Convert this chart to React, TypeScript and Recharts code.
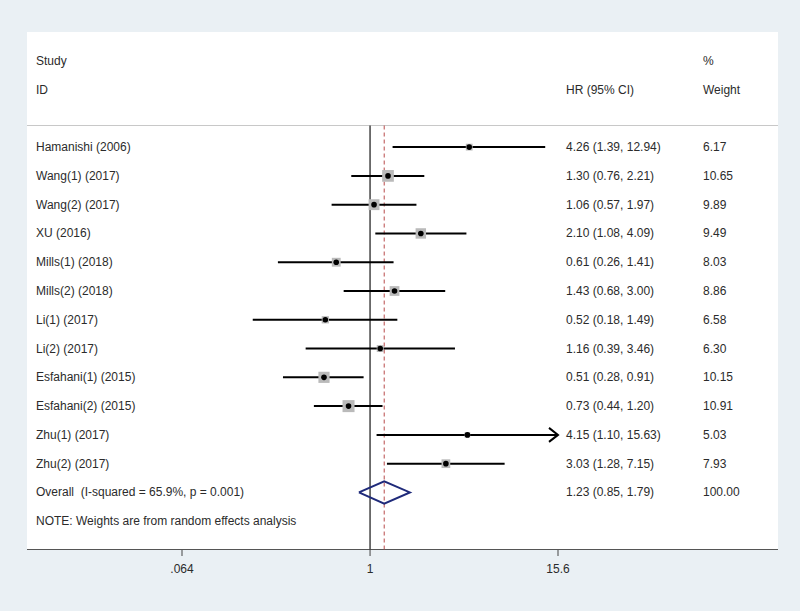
import React from "react";
import {
  ScatterChart,
  Scatter,
  XAxis,
  YAxis,
  ReferenceLine,
  ReferenceDot,
} from "recharts";

const studies = [
  "Hamanishi (2006)",
  "Wang(1) (2017)",
  "Wang(2) (2017)",
  "XU (2016)",
  "Mills(1) (2018)",
  "Mills(2) (2018)",
  "Li(1) (2017)",
  "Li(2) (2017)",
  "Esfahani(1) (2015)",
  "Esfahani(2) (2015)",
  "Zhu(1) (2017)",
  "Zhu(2) (2017)",
];
const hr = [4.26, 1.3, 1.06, 2.1, 0.61, 1.43, 0.52, 1.16, 0.51, 0.73, 4.15, 3.03];
const lower = [1.39, 0.76, 0.57, 1.08, 0.26, 0.68, 0.18, 0.39, 0.28, 0.44, 1.1, 1.28];
const upper = [12.94, 2.21, 1.97, 4.09, 1.41, 3.0, 1.49, 3.46, 0.91, 1.2, 15.63, 7.15];
const weights = [6.17, 10.65, 9.89, 9.49, 8.03, 8.86, 6.58, 6.3, 10.15, 10.91, 5.03, 7.93];

const overallLabel = "Overall  (I-squared = 65.9%, p = 0.001)";
const overallHr = 1.23;
const overallLo = 0.85;
const overallHi = 1.79;
const overallWeight = 100.0;
const note = "NOTE: Weights are from random effects analysis";

const xTicks = [0.064, 1, 15.6];
const xTickLabels = [".064", "1", "15.6"];

// row layout: header rows at -3/-2, studies 0..11, overall 12, note 13
const X_MIN = 0.064;
const X_MAX = 15.6;
const Y_TOP = -4;
const Y_BOTTOM = 14;
const HEADER_LINE = -0.75;
const OVERALL_ROW = studies.length;
const NOTE_ROW = studies.length + 1;
const DIAMOND_H = 0.39;

const rows = studies.map((name, i) => ({
  name,
  x: hr[i],
  y: i,
  lo: lower[i],
  hi: upper[i],
  w: weights[i],
}));

const diamond = [
  { x: overallLo, y: OVERALL_ROW },
  { x: overallHr, y: OVERALL_ROW - DIAMOND_H },
  { x: overallHi, y: OVERALL_ROW },
  { x: overallHr, y: OVERALL_ROW + DIAMOND_H },
  { x: overallLo, y: OVERALL_ROW },
];

const yTicks = [-3, -2, ...rows.map(r => r.y), OVERALL_ROW, NOTE_ROW];

const fmtCI = (h: number, l: number, u: number) =>
  `${h.toFixed(2)} (${l.toFixed(2)}, ${u.toFixed(2)})`;

const FONT = "'Liberation Sans', Arial, sans-serif";
const TEXT = "#2b2b2b";

// one tick = one table row: study label, HR (95% CI), % weight
function rowText(v: number): [string, string, string] {
  if (v === -3) return ["Study", "", "%"];
  if (v === -2) return ["ID", "HR (95% CI)", "Weight"];
  if (v === OVERALL_ROW)
    return [overallLabel, fmtCI(overallHr, overallLo, overallHi), overallWeight.toFixed(2)];
  if (v === NOTE_ROW) return [note, "", ""];
  return [studies[v], fmtCI(hr[v], lower[v], upper[v]), weights[v].toFixed(2)];
}

function RowTick({ y, payload }: any) {
  const [label, ci, w] = rowText(payload.value);
  return (
    <g fill={TEXT} fontSize={12} fontFamily={FONT}>
      <text x={36} y={y} dy={4} style={{ whiteSpace: "pre" }}>{label}</text>
      <text x={566} y={y} dy={4}>{ci}</text>
      <text x={703} y={y} dy={4}>{w}</text>
    </g>
  );
}

function StudyBox({ cx, cy, payload }: any) {
  const s = payload.w * 1.1;
  return (
    <g>
      <rect x={cx - s / 2} y={cy - s / 2} width={s} height={s} fill="#bababa" />
      <circle cx={cx} cy={cy} r={2.8} fill="#000" />
    </g>
  );
}

function Arrow({ cx, cy }: any) {
  return (
    <path
      d={`M${cx - 9},${cy - 7} L${cx},${cy} L${cx - 9},${cy + 7}`}
      fill="none"
      stroke="#000"
      strokeWidth={2}
    />
  );
}

export default function App() {
  return (
    <div style={{ position: "fixed", left: 0, top: 0, width: 800, height: 611, background: "#eaf0f4" }}>
      <div
        style={{
          position: "absolute",
          left: 27,
          top: 32,
          width: 751,
          height: 518,
          background: "#fff",
          borderBottom: "1.5px solid #555",
          boxSizing: "border-box",
        }}
      />
      <div style={{ position: "absolute", left: 27, top: 125, width: 751, height: 1, background: "#c8c8c8" }} />
      <div style={{ position: "absolute", left: 0, top: 0 }}>
        <ScatterChart width={800} height={611} margin={{ top: 32, right: 242, bottom: 31, left: 0 }}>
          <XAxis
            type="number"
            dataKey="x"
            scale="log"
            domain={[X_MIN, X_MAX]}
            allowDataOverflow
            ticks={xTicks}
            tickFormatter={v => xTickLabels[xTicks.indexOf(v)] ?? String(v)}
            axisLine={false}
            tickLine={{ stroke: "#444" }}
            tickSize={6}
            tickMargin={8}
            tick={{ fill: TEXT, fontSize: 12, fontFamily: FONT }}
            height={30}
          />
          <YAxis
            yAxisId="left"
            type="number"
            dataKey="y"
            orientation="left"
            reversed
            domain={[Y_TOP, Y_BOTTOM]}
            ticks={yTicks}
            interval={0}
            width={182}
            axisLine={false}
            tickLine={false}
            tick={<RowTick />}
          />
          <ReferenceLine
            yAxisId="left"
            segment={[{ x: 1, y: HEADER_LINE }, { x: 1, y: Y_BOTTOM }]}
            stroke="#444"
            strokeWidth={1.5}
            ifOverflow="visible"
          />
          <ReferenceLine
            yAxisId="left"
            segment={[{ x: overallHr, y: HEADER_LINE }, { x: overallHr, y: Y_BOTTOM }]}
            stroke="#b84a4a"
            strokeWidth={1}
            strokeDasharray="4 3"
            ifOverflow="visible"
          />
          <Scatter yAxisId="left" data={rows} shape={<StudyBox />} isAnimationActive={false} />
          {rows.map(r => (
            <ReferenceLine
              key={r.name}
              yAxisId="left"
              segment={[{ x: r.lo, y: r.y }, { x: Math.min(r.hi, X_MAX), y: r.y }]}
              stroke="#000"
              strokeWidth={2}
              ifOverflow="visible"
            />
          ))}
          {rows
            .filter(r => r.hi > X_MAX)
            .map(r => (
              <ReferenceDot
                key={`arrow-${r.name}`}
                yAxisId="left"
                x={X_MAX}
                y={r.y}
                shape={<Arrow />}
                ifOverflow="visible"
              />
            ))}
          <Scatter
            yAxisId="left"
            data={diamond}
            line={{ stroke: "#1f2a7a", strokeWidth: 2 }}
            shape={() => <g />}
            isAnimationActive={false}
          />
        </ScatterChart>
      </div>
    </div>
  );
}
